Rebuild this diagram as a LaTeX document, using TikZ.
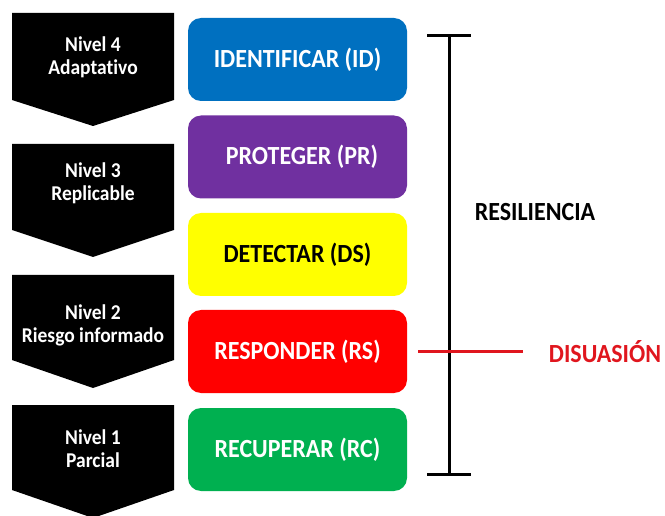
\documentclass[tikz,border=0pt]{standalone}
\usepackage{fontspec}
\setmainfont{Carlito}[Ligatures=NoCommon]
\definecolor{cblue}{HTML}{0070C0}
\definecolor{cpurple}{HTML}{7030A0}
\definecolor{cyellow}{HTML}{FFFF00}
\definecolor{cred}{HTML}{FF0000}
\definecolor{cgreen}{HTML}{00B050}
\definecolor{dred}{HTML}{E0161E}
\newcommand\vstr[1]{\scalebox{1}[1.09]{#1}}
\newcommand\twol[2]{\scalebox{1}[1.08]{\begin{tabular}{@{}c@{}}#1\\#2\end{tabular}}}
\begin{document}
\begin{tikzpicture}[x=1pt,y=-1pt,
  chev/.style={fill=black},
  chevtxt/.style={text=white,font=\fontsize{19.5}{21.3}\selectfont\bfseries,align=center,inner sep=0pt},
  func/.style={rounded corners=13pt,minimum width=219pt,minimum height=83pt,inner sep=0pt,
     font=\fontsize{24}{28}\selectfont\bfseries,text=white},
  side/.style={font=\fontsize{24}{28}\selectfont\bfseries,inner sep=0pt}]
\useasboundingbox (0,0) rectangle (665,516);
\begin{scope}
\clip (0,0) rectangle (665,516);
\fill[chev] (12,13) -- (174,13) -- (174,100) -- (93,126) -- (12,100) -- cycle;
\fill[chev] (12,144) -- (174,144) -- (174,230) -- (93,257) -- (12,230) -- cycle;
\fill[chev] (12,275) -- (174,275) -- (174,360) -- (93,388) -- (12,360) -- cycle;
\fill[chev] (12,405) -- (174,405) -- (174,490) -- (93,518) -- (12,490) -- cycle;
\end{scope}
\node[chevtxt] (lv4) at (93,58.5) {\twol{Nivel 4}{Adaptativo}};
\node[chevtxt] (lv3) at (93,184.5) {\twol{Nivel 3}{Replicable}};
\node[chevtxt] (lv2) at (93,326) {\twol{Nivel 2}{Riesgo informado}};
\node[chevtxt] (lv1) at (93,451) {\twol{Nivel 1}{Parcial}};
\node[func,fill=cblue] (id) at (297.5,59.5) {\vstr{IDENTIFICAR (ID)}};
\node[func,fill=cpurple] (pr) at (297.5,157) {\hspace*{9pt}\raisebox{-2pt}{\vstr{PROTEGER (PR)}}};
\node[func,fill=cyellow,text=black] (ds) at (297.5,254.5) {\raisebox{-1.5pt}{\vstr{DETECTAR (DS)}}};
\node[func,fill=cred] (rs) at (297.5,351.5) {\vstr{RESPONDER (RS)}};
\node[func,fill=cgreen] (rc) at (297.5,449.5) {\vstr{RECUPERAR (RC)}};
\coordinate (bt) at (449,36);
\coordinate (bb) at (449,474);
\coordinate (btl) at (427,36);
\coordinate (btr) at (471,36);
\coordinate (bbl) at (427,474);
\coordinate (bbr) at (471,474);
\draw[line width=3pt] (bt) -- (bb);
\draw[line width=3pt] (btl) -- (btr);
\draw[line width=3pt] (bbl) -- (bbr);
\coordinate (rl) at (418,351);
\coordinate (rr) at (523,351);
\draw[dred,line width=3pt] (rl) -- (rr);
\node[side] (res) at (535,212) {\vstr{RESILIENCIA}};
\node[side,text=dred] (dis) at (605,352) {\vstr{DISUASIÓN}};
\end{tikzpicture}
\end{document}
